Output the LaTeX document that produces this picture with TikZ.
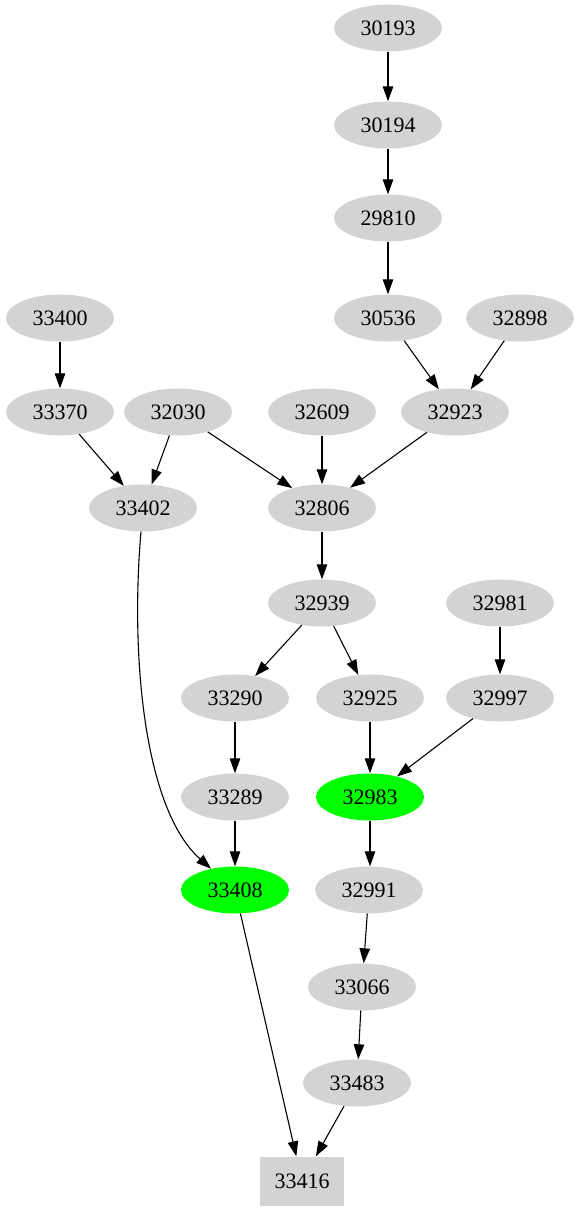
\documentclass[tikz,border=0pt]{standalone}
\usepackage{fontspec}
\setmainfont{Liberation Serif}
\usetikzlibrary{shapes.geometric,arrows.meta}
\definecolor{lgray}{HTML}{D3D3D3}
\definecolor{vgreen}{HTML}{00FF00}
\tikzset{
  nd/.style={ellipse,fill=lgray,minimum width=108pt,minimum height=47pt,inner sep=0pt,font=\fontsize{22}{25}\selectfont},
  gnd/.style={nd,fill=vgreen},
  bx/.style={rectangle,fill=lgray,minimum width=84pt,minimum height=49pt,inner sep=0pt,font=\fontsize{22}{25}\selectfont},
  ed/.style={draw=black,line width=1.1pt,-{Triangle[length=15pt,width=10.5pt]}}
}
\begin{document}
\begin{tikzpicture}[x=1pt,y=-1pt]
\useasboundingbox (0,0) rectangle (579,1211);
\node[nd] (n30193) at (388,28) {30193};
\node[nd] (n30194) at (388,125) {30194};
\node[nd] (n29810) at (388,218) {29810};
\node[nd] (n30536) at (388,318) {30536};
\node[nd] (n32898) at (520,318) {32898};
\node[nd] (n33400) at (60,318) {33400};
\node[nd] (n33370) at (60,412) {33370};
\node[nd] (n32030) at (178,412) {32030};
\node[nd] (n32609) at (322,412) {32609};
\node[nd] (n32923) at (455,412) {32923};
\node[nd] (n33402) at (143,508) {33402};
\node[nd] (n32806) at (322,508) {32806};
\node[nd] (n32939) at (322,603) {32939};
\node[nd] (n32981) at (500,603) {32981};
\node[nd] (n33290) at (235,698) {33290};
\node[nd] (n32925) at (370,698) {32925};
\node[nd] (n32997) at (500,698) {32997};
\node[gnd] (n32983) at (370,797) {32983};
\node[nd] (n33289) at (235,797) {33289};
\node[gnd] (n33408) at (235,890) {33408};
\node[nd] (n32991) at (369,890) {32991};
\node[nd] (n33066) at (362,987) {33066};
\node[nd] (n33483) at (357,1083) {33483};
\node[bx] (n33416) at (302,1181) {33416};

\draw[ed] (n30193) -- (n30194);
\draw[ed] (n30194) -- (n29810);
\draw[ed] (n29810) -- (n30536);
\draw[ed] (n30536) -- (n32923);
\draw[ed] (n32898) -- (n32923);
\draw[ed] (n33400) -- (n33370);
\draw[ed] (n33370) -- (n33402);
\draw[ed] (n32030) -- (n33402);
\draw[ed] (n32030) -- (n32806);
\draw[ed] (n32609) -- (n32806);
\draw[ed] (n32923) -- (n32806);
\draw[ed] (n32806) -- (n32939);
\draw[ed] (n32939) -- (n33290);
\draw[ed] (n32939) -- (n32925);
\draw[ed] (n32981) -- (n32997);
\draw[ed] (n32925) -- (n32983);
\draw[ed] (n32997) -- (n32983);
\draw[ed] (n33290) -- (n33289);
\draw[ed] (n33289) -- (n33408);
\draw[ed] (n32983) -- (n32983.south |- n32991.north);
\draw[ed] (n32991) -- (n33066);
\draw[ed] (n33066) -- (n33483);
\draw[ed] (n33483) -- (n33416);
\draw[ed] (n33408) -- (n33416);
\draw[ed] (n33402) .. controls (130,660) and (145,810) .. (n33408);
\end{tikzpicture}
\end{document}
